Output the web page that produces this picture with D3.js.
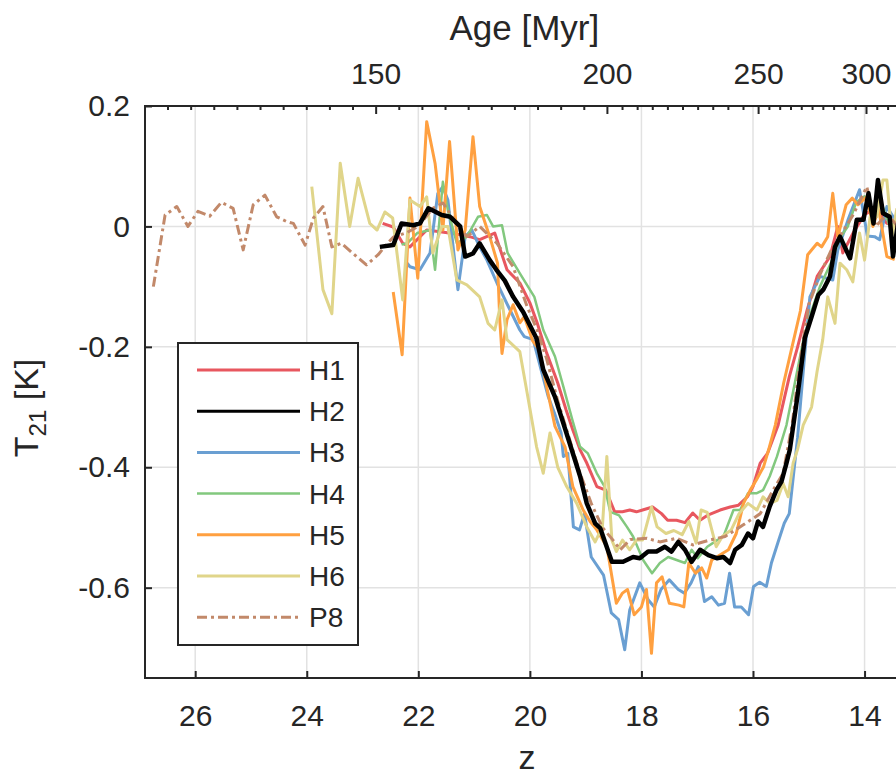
<!DOCTYPE html>
<html><head><meta charset="utf-8">
<script src="https://cdn.jsdelivr.net/npm/d3@7"></script>
<style>
html,body{margin:0;padding:0;background:#fff;}
text{font-family:"Liberation Sans",Arial,Helvetica,sans-serif;fill:#262626;}
</style></head>
<body><svg id="chart" width="896" height="776"></svg>
<script>
// ---------------- data ----------------
const zTicks = [26, 24, 22, 20, 18, 16, 14];
const tTicks = [0.2, 0, -0.2, -0.4, -0.6];
const ageTicks = [150, 200, 250, 300];
const ageConst = 17368; // age[Myr] = C * (1+z)^-1.5

const seriesNames = ["H1", "H2", "H3", "H4", "H5", "H6", "P8"];

const zH1 = [22.64,22.45,22.28,22.15,21.85,21.61,21.35,21.08,20.90,20.63,20.41,20.18,20.00,19.87,19.70,19.50,19.35,19.23,19.10,18.98,18.80,18.64,18.48,18.34,18.21,18.09,17.98,17.80,17.64,17.53,17.37,17.22,17.08,16.95,16.80,16.59,16.41,16.26,16.10,16.00,15.87,15.74,15.55,15.35,15.20,15.03,14.85,14.62,14.48,14.39,14.20,14.00,13.80,13.60,13.40];
const tH1 = [0.005,-0.001,-0.028,-0.034,-0.006,-0.009,-0.012,-0.017,-0.022,-0.011,-0.072,-0.094,-0.127,-0.160,-0.210,-0.260,-0.305,-0.338,-0.371,-0.393,-0.432,-0.438,-0.474,-0.474,-0.471,-0.474,-0.471,-0.466,-0.477,-0.488,-0.488,-0.492,-0.476,-0.488,-0.479,-0.471,-0.466,-0.463,-0.449,-0.432,-0.393,-0.377,-0.330,-0.250,-0.200,-0.139,-0.083,-0.050,0.000,-0.044,-0.010,0.020,0.030,0.005,0.000];

const zH2 = [22.69,22.45,22.30,22.09,21.97,21.82,21.58,21.43,21.25,21.16,21.02,20.90,20.72,20.60,20.45,20.30,20.12,19.88,19.76,19.55,19.40,19.25,19.10,18.98,18.83,18.74,18.53,18.33,18.15,18.03,17.88,17.73,17.58,17.46,17.34,17.22,17.10,16.95,16.80,16.65,16.53,16.41,16.32,16.20,16.09,16.00,15.91,15.82,15.70,15.58,15.49,15.40,15.34,15.20,15.07,14.95,14.83,14.74,14.62,14.53,14.44,14.26,14.14,14.02,13.93,13.84,13.76,13.67,13.55,13.49,13.40];
const tH2 = [-0.034,-0.031,0.005,0.002,0.005,0.030,0.019,0.016,0.000,-0.050,-0.045,-0.028,-0.056,-0.072,-0.090,-0.117,-0.142,-0.186,-0.238,-0.283,-0.327,-0.371,-0.415,-0.460,-0.493,-0.501,-0.557,-0.557,-0.549,-0.551,-0.540,-0.540,-0.532,-0.540,-0.524,-0.537,-0.557,-0.537,-0.546,-0.551,-0.549,-0.559,-0.537,-0.529,-0.510,-0.518,-0.490,-0.499,-0.465,-0.438,-0.424,-0.393,-0.371,-0.280,-0.185,-0.150,-0.114,-0.105,-0.083,-0.034,-0.017,-0.053,0.011,0.011,0.055,0.005,0.077,0.022,0.016,-0.050,0.005];

const zH3 = [22.20,22.15,21.97,21.79,21.65,21.56,21.47,21.29,21.16,21.04,20.90,20.77,20.59,20.36,20.18,20.10,19.94,19.80,19.67,19.56,19.44,19.40,19.32,19.22,19.11,19.02,18.90,18.68,18.54,18.41,18.30,18.21,18.03,17.88,17.77,17.65,17.50,17.34,17.23,17.11,16.98,16.87,16.74,16.62,16.51,16.42,16.33,16.21,16.08,15.99,15.88,15.76,15.67,15.55,15.44,15.35,15.20,15.08,14.98,14.80,14.57,14.48,14.30,14.09,13.95,13.82,13.73,13.60,13.45];
const tH3 = [-0.061,-0.067,-0.072,-0.044,0.055,0.066,0.044,-0.105,-0.017,-0.006,-0.034,-0.056,-0.094,-0.138,-0.172,-0.183,-0.188,-0.238,-0.283,-0.310,-0.343,-0.382,-0.377,-0.499,-0.504,-0.477,-0.549,-0.579,-0.642,-0.653,-0.703,-0.637,-0.592,-0.620,-0.632,-0.603,-0.587,-0.603,-0.609,-0.592,-0.565,-0.623,-0.615,-0.629,-0.626,-0.576,-0.632,-0.632,-0.645,-0.598,-0.591,-0.598,-0.559,-0.524,-0.493,-0.477,-0.350,-0.220,-0.117,-0.083,-0.089,-0.039,0.010,0.061,-0.016,-0.017,-0.022,0.033,0.010];

const zH4 = [22.30,22.20,22.02,21.79,21.70,21.56,21.47,21.31,21.13,20.93,20.77,20.66,20.50,20.40,20.18,19.92,19.76,19.55,19.40,19.24,19.10,18.96,18.80,18.66,18.56,18.40,18.26,18.15,17.97,17.81,17.67,17.52,17.37,17.22,17.10,16.99,16.82,16.64,16.53,16.35,16.23,16.09,15.93,15.82,15.70,15.57,15.40,15.25,15.10,14.95,14.80,14.60,14.45,14.30,14.15,14.00,13.85,13.70,13.55,13.40];
const tH4 = [-0.030,-0.028,-0.011,-0.006,-0.072,0.074,0.027,-0.028,-0.017,0.016,0.019,0.000,0.002,-0.044,-0.078,-0.117,-0.172,-0.216,-0.266,-0.321,-0.366,-0.377,-0.410,-0.432,-0.474,-0.480,-0.499,-0.515,-0.554,-0.576,-0.559,-0.549,-0.554,-0.559,-0.537,-0.551,-0.532,-0.521,-0.515,-0.471,-0.471,-0.443,-0.443,-0.438,-0.415,-0.382,-0.330,-0.260,-0.190,-0.140,-0.100,-0.060,-0.020,0.000,0.040,0.050,0.020,0.040,0.000,0.010];

const zH5 = [22.45,22.29,22.15,22.01,21.85,21.70,21.56,21.44,21.29,21.16,21.02,20.90,20.72,20.58,20.54,20.50,20.41,20.30,20.18,20.10,19.95,19.83,19.70,19.55,19.37,19.23,19.05,18.92,18.80,18.62,18.45,18.34,18.25,18.13,18.00,17.91,17.82,17.73,17.63,17.50,17.33,17.24,17.15,17.03,16.92,16.83,16.74,16.44,16.30,16.17,16.05,15.94,15.81,15.72,15.60,15.45,15.30,15.15,15.02,14.85,14.77,14.66,14.57,14.48,14.33,14.22,14.12,13.96,13.85,13.75,13.60,13.46];
const tH5 = [-0.109,-0.213,0.047,-0.086,0.174,0.105,-0.006,0.141,-0.039,-0.006,0.149,0.033,-0.017,-0.061,-0.155,-0.211,-0.155,-0.130,-0.160,-0.150,-0.190,-0.205,-0.266,-0.332,-0.366,-0.432,-0.470,-0.490,-0.504,-0.532,-0.626,-0.609,-0.603,-0.645,-0.632,-0.603,-0.709,-0.592,-0.582,-0.626,-0.629,-0.632,-0.559,-0.576,-0.567,-0.584,-0.554,-0.537,-0.510,-0.460,-0.438,-0.421,-0.399,-0.371,-0.330,-0.260,-0.200,-0.140,-0.047,-0.028,-0.034,-0.017,0.055,-0.017,0.036,0.047,0.036,0.049,0.000,0.030,-0.050,-0.055];

const zH6 = [23.91,23.71,23.55,23.40,23.23,23.08,22.87,22.74,22.60,22.46,22.28,22.15,21.97,21.85,21.74,21.58,21.47,21.31,21.13,20.90,20.75,20.63,20.50,20.41,20.18,20.06,19.88,19.76,19.64,19.50,19.34,19.16,18.98,18.83,18.70,18.62,18.53,18.45,18.34,18.21,18.09,17.98,17.82,17.72,17.56,17.42,17.27,17.15,17.02,16.93,16.82,16.66,16.55,16.39,16.25,16.09,15.93,15.82,15.70,15.57,15.46,15.37,15.28,15.20,15.10,14.95,14.85,14.75,14.66,14.53,14.44,14.32,14.21,14.09,14.00,13.90,13.78,13.67,13.60,13.51,13.42];
const tH6 = [0.066,-0.105,-0.145,0.105,0.000,0.080,0.005,-0.006,0.024,0.014,-0.122,0.044,0.033,0.049,-0.044,0.000,0.000,-0.089,-0.097,-0.117,-0.161,-0.172,-0.122,-0.188,-0.208,-0.271,-0.366,-0.410,-0.343,-0.400,-0.432,-0.460,-0.499,-0.524,-0.499,-0.382,-0.521,-0.540,-0.521,-0.537,-0.521,-0.521,-0.466,-0.499,-0.510,-0.505,-0.512,-0.490,-0.526,-0.471,-0.475,-0.532,-0.515,-0.504,-0.477,-0.460,-0.471,-0.449,-0.460,-0.455,-0.427,-0.449,-0.393,-0.370,-0.330,-0.300,-0.240,-0.188,-0.117,-0.161,-0.061,-0.072,-0.092,-0.011,-0.056,0.016,0.016,0.077,0.077,-0.017,0.030];

const zP8 = [26.75,26.54,26.33,26.13,25.95,25.74,25.53,25.32,25.14,24.96,24.75,24.54,24.36,24.24,24.03,23.88,23.71,23.55,23.38,23.17,22.93,22.72,22.57,22.45,22.20,22.00,21.74,21.56,21.35,21.13,20.90,20.59,20.30,20.05,19.87,19.70,19.50,19.30,19.10,18.90,18.70,18.51,18.38,18.20,17.90,17.67,17.37,17.08,16.78,16.50,16.18,15.87,15.64,15.46,15.30,15.15,15.00,14.80,14.60,14.40,14.20,13.96,13.80,13.60,13.40];
const tP8 = [-0.100,0.019,0.033,0.000,0.025,0.017,0.040,0.030,-0.039,0.036,0.052,0.016,0.008,0.005,-0.031,0.014,0.033,-0.034,-0.028,-0.045,-0.064,-0.047,-0.030,-0.018,-0.010,0.000,0.030,0.039,0.010,-0.017,0.000,-0.028,-0.067,-0.133,-0.172,-0.220,-0.290,-0.350,-0.410,-0.460,-0.500,-0.521,-0.537,-0.520,-0.518,-0.524,-0.518,-0.529,-0.521,-0.515,-0.496,-0.477,-0.438,-0.410,-0.330,-0.220,-0.130,-0.080,-0.040,-0.010,0.020,0.066,0.000,0.020,0.000];

const seriesZ = [zH1, zH2, zH3, zH4, zH5, zH6, zP8];
const seriesT = [tH1, tH2, tH3, tH4, tH5, tH6, tP8];
const seriesColors = ["#e8575f", "#000000", "#6a9fd2", "#82c87e", "#ffa040", "#e0d58a", "#c2896a"];
const seriesWidths = [3, 4.5, 3, 2.5, 3, 3, 3];
const seriesDash = [null, null, null, null, null, null, "10,4,3,4"];
const drawOrder = [0, 2, 3, 4, 5, 6, 1];

// ---------------- layout ----------------
const L = 145, T0 = 106, B = 678, pxPerZ = 55.78;
const zLeft = 26.9, zRight = 13.0;
const R = L + (zLeft - zRight) * pxPerZ;
const svg = d3.select("#chart");
const x = d3.scaleLinear().domain([zLeft, zRight]).range([L, R]);
const y = d3.scaleLinear().domain([-0.75, 0.2]).range([B, T0]);
const ageToZ = a => Math.pow(ageConst / a, 2 / 3) - 1;
const ink = "#262626";

svg.append("defs").append("clipPath").attr("id", "clip")
  .append("rect").attr("x", L).attr("y", T0).attr("width", R - L).attr("height", B - T0);

// grid
const grid = svg.append("g");
grid.selectAll(".gx").data(zTicks).join("line")
  .attr("x1", d => x(d)).attr("x2", d => x(d)).attr("y1", T0).attr("y2", B)
  .attr("stroke", "#e2e2e2").attr("stroke-width", 1.5);
grid.selectAll(".gy").data(tTicks).join("line")
  .attr("x1", L).attr("x2", R).attr("y1", d => y(d)).attr("y2", d => y(d))
  .attr("stroke", "#e2e2e2").attr("stroke-width", 1.5);

// lines
const plot = svg.append("g").attr("clip-path", "url(#clip)");
drawOrder.forEach(i => {
  const pts = seriesZ[i].map((z, k) => [z, seriesT[i][k]]);
  const line = d3.line().x(d => x(d[0])).y(d => y(d[1]));
  const p = plot.append("path").datum(pts).attr("d", line)
    .attr("fill", "none").attr("stroke", seriesColors[i])
    .attr("stroke-width", seriesWidths[i]).attr("stroke-linejoin", "round");
  if (seriesDash[i]) p.attr("stroke-dasharray", seriesDash[i]);
});

// axes
const gB = svg.append("g").attr("transform", `translate(0,${B})`)
  .call(d3.axisBottom(x).tickValues(zTicks).tickSize(-7).tickPadding(27).tickFormat(d => String(d)));
const gL = svg.append("g").attr("transform", `translate(${L},0)`)
  .call(d3.axisLeft(y).tickValues(tTicks).tickSize(-7).tickPadding(15).tickFormat(d => d === 0 ? "0" : d.toFixed(1)));
[gB, gL].forEach(g => {
  g.select(".domain").remove();
  g.selectAll(".tick line").attr("stroke", ink).attr("stroke-width", 2);
  g.selectAll(".tick text").attr("font-size", 30).attr("fill", ink)
    .style("font-family", "'Liberation Sans', Arial, sans-serif");
});

// top age axis
const ageX = ageTicks.map(a => x(ageToZ(a)));
const minorX = [];
for (let i = 0; i < ageX.length - 1; i++) {
  const step = (ageX[i + 1] - ageX[i]) / 10;
  for (let k = 1; k < 10; k++) minorX.push(ageX[i] + k * step);
}
{
  const s0 = (ageX[1] - ageX[0]) / 10;
  for (let v = ageX[0] - s0; v > L + 5; v -= s0) minorX.push(v);
  const s1 = (ageX[ageX.length - 1] - ageX[ageX.length - 2]) / 10;
  for (let v = ageX[ageX.length - 1] + s1; v < R - 2; v += s1) minorX.push(v);
}
const gT = svg.append("g");
gT.selectAll(".mn").data(minorX).join("line")
  .attr("x1", d => d).attr("x2", d => d).attr("y1", T0).attr("y2", T0 + 4)
  .attr("stroke", ink).attr("stroke-width", 2);
gT.selectAll(".mj").data(ageTicks).join("line")
  .attr("x1", d => x(ageToZ(d))).attr("x2", d => x(ageToZ(d))).attr("y1", T0).attr("y2", T0 + 8)
  .attr("stroke", ink).attr("stroke-width", 2);
gT.selectAll(".lb").data(ageTicks).join("text")
  .attr("x", d => x(ageToZ(d))).attr("y", 84).attr("text-anchor", "middle")
  .attr("font-size", 30).text(d => d);

// frame
svg.append("rect").attr("x", L).attr("y", T0).attr("width", R - L).attr("height", B - T0)
  .attr("fill", "none").attr("stroke", ink).attr("stroke-width", 2);

// axis titles
svg.append("text").attr("x", x(20.1)).attr("y", 40).attr("text-anchor", "middle")
  .attr("font-size", 35).text("Age [Myr]");
svg.append("text").attr("x", x(20.05)).attr("y", 769).attr("text-anchor", "middle")
  .attr("font-size", 34).text("z");
const yl = svg.append("text").attr("transform", "translate(38,408) rotate(-90)")
  .attr("text-anchor", "middle").attr("font-size", 34);
yl.append("tspan").text("T");
yl.append("tspan").attr("font-size", 24).attr("dy", 8).text("21");
yl.append("tspan").attr("dy", -8).text(" [K]");

// legend
const lg = svg.append("g");
lg.append("rect").attr("x", 178).attr("y", 343).attr("width", 180).attr("height", 302)
  .attr("fill", "#fff").attr("stroke", ink).attr("stroke-width", 2);
seriesNames.forEach((n, i) => {
  const yy = 370 + i * 41.2;
  const l = lg.append("line").attr("x1", 197).attr("x2", 300).attr("y1", yy).attr("y2", yy)
    .attr("stroke", seriesColors[i]).attr("stroke-width", i === 3 ? 2.5 : 3);
  if (seriesDash[i]) l.attr("stroke-dasharray", seriesDash[i]);
  lg.append("text").attr("x", 309).attr("y", yy).attr("dy", "0.36em")
    .attr("font-size", 28).text(n);
});
</script></body></html>
